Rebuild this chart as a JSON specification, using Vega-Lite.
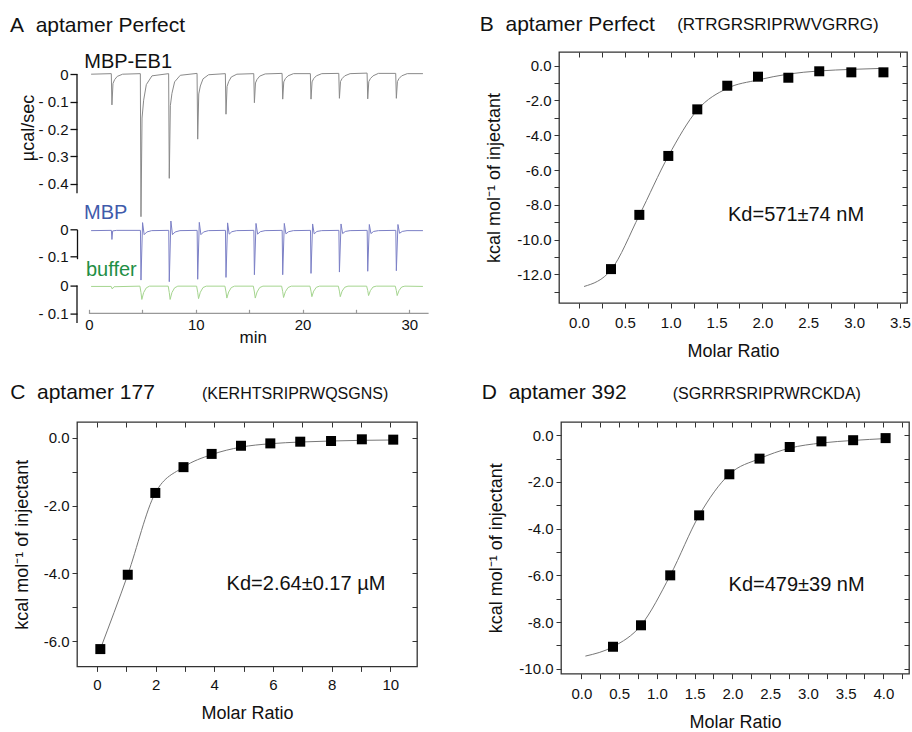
{
  "$schema": "https://vega.github.io/schema/vega-lite/v6.json",
  "padding": {"left": 9, "top": 13, "right": 0, "bottom": 0},
  "background": "white",
  "config": {
    "font": "Liberation Sans",
    "view": {"stroke": null},
    "axis": {"labelFont": "Liberation Sans", "titleFont": "Liberation Sans", "labelColor": "#111", "titleColor": "#111", "titleFontWeight": "normal", "grid": false, "tickColor": "#333", "domainColor": "#333", "labelFlush": false, "labelOverlap": false, "labelBound": false, "minExtent": 0},
    "title": {"font": "Liberation Sans", "subtitleFont": "Liberation Sans", "fontWeight": "normal", "color": "#111", "subtitleColor": "#111", "anchor": "start"}
  },
  "datasets": {
    "itc": [
      {"trace": "MBP-EB1", "time": 0.2, "power": 0},
      {"trace": "MBP-EB1", "time": 2.09, "power": 0.002},
      {"trace": "MBP-EB1", "time": 2.15, "power": -0.112},
      {"trace": "MBP-EB1", "time": 2.25, "power": -0.034},
      {"trace": "MBP-EB1", "time": 2.4, "power": -0.02},
      {"trace": "MBP-EB1", "time": 2.65, "power": -0.008},
      {"trace": "MBP-EB1", "time": 3.15, "power": 0},
      {"trace": "MBP-EB1", "time": 4.81, "power": 0.002},
      {"trace": "MBP-EB1", "time": 4.87, "power": -0.52},
      {"trace": "MBP-EB1", "time": 4.97, "power": -0.16},
      {"trace": "MBP-EB1", "time": 5.12, "power": -0.095},
      {"trace": "MBP-EB1", "time": 5.37, "power": -0.038},
      {"trace": "MBP-EB1", "time": 5.9, "power": -0.006},
      {"trace": "MBP-EB1", "time": 7.46, "power": 0.002},
      {"trace": "MBP-EB1", "time": 7.52, "power": -0.38},
      {"trace": "MBP-EB1", "time": 7.62, "power": -0.115},
      {"trace": "MBP-EB1", "time": 7.77, "power": -0.07},
      {"trace": "MBP-EB1", "time": 8.02, "power": -0.028},
      {"trace": "MBP-EB1", "time": 8.55, "power": -0.004},
      {"trace": "MBP-EB1", "time": 10.12, "power": 0.003},
      {"trace": "MBP-EB1", "time": 10.18, "power": -0.237},
      {"trace": "MBP-EB1", "time": 10.28, "power": -0.072},
      {"trace": "MBP-EB1", "time": 10.43, "power": -0.043},
      {"trace": "MBP-EB1", "time": 10.68, "power": -0.017},
      {"trace": "MBP-EB1", "time": 11.2, "power": -0.002},
      {"trace": "MBP-EB1", "time": 12.77, "power": 0.002},
      {"trace": "MBP-EB1", "time": 12.83, "power": -0.146},
      {"trace": "MBP-EB1", "time": 12.93, "power": -0.045},
      {"trace": "MBP-EB1", "time": 13.08, "power": -0.027},
      {"trace": "MBP-EB1", "time": 13.33, "power": -0.01},
      {"trace": "MBP-EB1", "time": 13.85, "power": 0},
      {"trace": "MBP-EB1", "time": 15.43, "power": 0.002},
      {"trace": "MBP-EB1", "time": 15.49, "power": -0.104},
      {"trace": "MBP-EB1", "time": 15.59, "power": -0.032},
      {"trace": "MBP-EB1", "time": 15.74, "power": -0.019},
      {"trace": "MBP-EB1", "time": 15.99, "power": -0.007},
      {"trace": "MBP-EB1", "time": 16.5, "power": 0.001},
      {"trace": "MBP-EB1", "time": 18.08, "power": 0.003},
      {"trace": "MBP-EB1", "time": 18.14, "power": -0.091},
      {"trace": "MBP-EB1", "time": 18.24, "power": -0.028},
      {"trace": "MBP-EB1", "time": 18.39, "power": -0.016},
      {"trace": "MBP-EB1", "time": 18.64, "power": -0.006},
      {"trace": "MBP-EB1", "time": 19.15, "power": 0.002},
      {"trace": "MBP-EB1", "time": 20.73, "power": 0.002},
      {"trace": "MBP-EB1", "time": 20.79, "power": -0.091},
      {"trace": "MBP-EB1", "time": 20.89, "power": -0.028},
      {"trace": "MBP-EB1", "time": 21.04, "power": -0.016},
      {"trace": "MBP-EB1", "time": 21.29, "power": -0.006},
      {"trace": "MBP-EB1", "time": 21.8, "power": 0.002},
      {"trace": "MBP-EB1", "time": 23.39, "power": 0.003},
      {"trace": "MBP-EB1", "time": 23.45, "power": -0.088},
      {"trace": "MBP-EB1", "time": 23.55, "power": -0.027},
      {"trace": "MBP-EB1", "time": 23.7, "power": -0.016},
      {"trace": "MBP-EB1", "time": 23.95, "power": -0.006},
      {"trace": "MBP-EB1", "time": 24.45, "power": 0.002},
      {"trace": "MBP-EB1", "time": 26.04, "power": 0.004},
      {"trace": "MBP-EB1", "time": 26.1, "power": -0.09},
      {"trace": "MBP-EB1", "time": 26.2, "power": -0.027},
      {"trace": "MBP-EB1", "time": 26.35, "power": -0.016},
      {"trace": "MBP-EB1", "time": 26.6, "power": -0.006},
      {"trace": "MBP-EB1", "time": 27.1, "power": 0.003},
      {"trace": "MBP-EB1", "time": 28.72, "power": 0.003},
      {"trace": "MBP-EB1", "time": 28.78, "power": -0.088},
      {"trace": "MBP-EB1", "time": 28.88, "power": -0.027},
      {"trace": "MBP-EB1", "time": 29.03, "power": -0.016},
      {"trace": "MBP-EB1", "time": 29.28, "power": -0.006},
      {"trace": "MBP-EB1", "time": 29.8, "power": 0.002},
      {"trace": "MBP-EB1", "time": 31.27, "power": 0.002},

      {"trace": "MBP", "time": 0.2, "power": -0.005},
      {"trace": "MBP", "time": 2.1, "power": -0.004},
      {"trace": "MBP", "time": 2.15, "power": -0.038},
      {"trace": "MBP", "time": 2.22, "power": -0.006},
      {"trace": "MBP", "time": 2.6, "power": -0.004},
      {"trace": "MBP", "time": 4.82, "power": -0.004},
      {"trace": "MBP", "time": 4.87, "power": -0.19},
      {"trace": "MBP", "time": 5.02, "power": 0.025},
      {"trace": "MBP", "time": 5.17, "power": -0.02},
      {"trace": "MBP", "time": 5.42, "power": -0.01},
      {"trace": "MBP", "time": 5.87, "power": -0.005},
      {"trace": "MBP", "time": 7.47, "power": -0.004},
      {"trace": "MBP", "time": 7.52, "power": -0.196},
      {"trace": "MBP", "time": 7.67, "power": 0.031},
      {"trace": "MBP", "time": 7.82, "power": -0.02},
      {"trace": "MBP", "time": 8.07, "power": -0.01},
      {"trace": "MBP", "time": 8.52, "power": -0.005},
      {"trace": "MBP", "time": 10.13, "power": -0.004},
      {"trace": "MBP", "time": 10.18, "power": -0.187},
      {"trace": "MBP", "time": 10.33, "power": 0.026},
      {"trace": "MBP", "time": 10.48, "power": -0.02},
      {"trace": "MBP", "time": 10.73, "power": -0.01},
      {"trace": "MBP", "time": 11.18, "power": -0.005},
      {"trace": "MBP", "time": 12.78, "power": -0.004},
      {"trace": "MBP", "time": 12.83, "power": -0.18},
      {"trace": "MBP", "time": 12.98, "power": 0.024},
      {"trace": "MBP", "time": 13.13, "power": -0.018},
      {"trace": "MBP", "time": 13.38, "power": -0.009},
      {"trace": "MBP", "time": 13.83, "power": -0.005},
      {"trace": "MBP", "time": 15.44, "power": -0.004},
      {"trace": "MBP", "time": 15.49, "power": -0.17},
      {"trace": "MBP", "time": 15.64, "power": 0.022},
      {"trace": "MBP", "time": 15.79, "power": -0.018},
      {"trace": "MBP", "time": 16.04, "power": -0.009},
      {"trace": "MBP", "time": 16.49, "power": -0.005},
      {"trace": "MBP", "time": 18.09, "power": -0.004},
      {"trace": "MBP", "time": 18.14, "power": -0.17},
      {"trace": "MBP", "time": 18.29, "power": 0.022},
      {"trace": "MBP", "time": 18.44, "power": -0.017},
      {"trace": "MBP", "time": 18.69, "power": -0.009},
      {"trace": "MBP", "time": 19.14, "power": -0.005},
      {"trace": "MBP", "time": 20.74, "power": -0.004},
      {"trace": "MBP", "time": 20.79, "power": -0.165},
      {"trace": "MBP", "time": 20.94, "power": 0.02},
      {"trace": "MBP", "time": 21.09, "power": -0.017},
      {"trace": "MBP", "time": 21.34, "power": -0.008},
      {"trace": "MBP", "time": 21.79, "power": -0.005},
      {"trace": "MBP", "time": 23.4, "power": -0.004},
      {"trace": "MBP", "time": 23.45, "power": -0.16},
      {"trace": "MBP", "time": 23.6, "power": 0.02},
      {"trace": "MBP", "time": 23.75, "power": -0.016},
      {"trace": "MBP", "time": 24.0, "power": -0.008},
      {"trace": "MBP", "time": 24.45, "power": -0.005},
      {"trace": "MBP", "time": 26.05, "power": -0.004},
      {"trace": "MBP", "time": 26.1, "power": -0.157},
      {"trace": "MBP", "time": 26.25, "power": 0.018},
      {"trace": "MBP", "time": 26.4, "power": -0.016},
      {"trace": "MBP", "time": 26.65, "power": -0.008},
      {"trace": "MBP", "time": 27.1, "power": -0.005},
      {"trace": "MBP", "time": 28.73, "power": -0.004},
      {"trace": "MBP", "time": 28.78, "power": -0.155},
      {"trace": "MBP", "time": 28.93, "power": 0.018},
      {"trace": "MBP", "time": 29.08, "power": -0.015},
      {"trace": "MBP", "time": 29.33, "power": -0.008},
      {"trace": "MBP", "time": 29.78, "power": -0.005},
      {"trace": "MBP", "time": 31.27, "power": -0.005},

      {"trace": "buffer", "time": 0.2, "power": -0.003},
      {"trace": "buffer", "time": 2.08, "power": -0.003},
      {"trace": "buffer", "time": 2.18, "power": -0.012},
      {"trace": "buffer", "time": 2.35, "power": -0.004},
      {"trace": "buffer", "time": 4.77, "power": -0.002},
      {"trace": "buffer", "time": 4.87, "power": -0.025},
      {"trace": "buffer", "time": 4.95, "power": -0.05},
      {"trace": "buffer", "time": 5.12, "power": -0.025},
      {"trace": "buffer", "time": 5.37, "power": -0.008},
      {"trace": "buffer", "time": 5.67, "power": -0.002},
      {"trace": "buffer", "time": 7.42, "power": -0.002},
      {"trace": "buffer", "time": 7.52, "power": -0.025},
      {"trace": "buffer", "time": 7.6, "power": -0.05},
      {"trace": "buffer", "time": 7.77, "power": -0.025},
      {"trace": "buffer", "time": 8.02, "power": -0.008},
      {"trace": "buffer", "time": 8.32, "power": -0.002},
      {"trace": "buffer", "time": 10.08, "power": -0.002},
      {"trace": "buffer", "time": 10.18, "power": -0.024},
      {"trace": "buffer", "time": 10.26, "power": -0.047},
      {"trace": "buffer", "time": 10.43, "power": -0.024},
      {"trace": "buffer", "time": 10.68, "power": -0.007},
      {"trace": "buffer", "time": 10.98, "power": -0.002},
      {"trace": "buffer", "time": 12.73, "power": -0.002},
      {"trace": "buffer", "time": 12.83, "power": -0.023},
      {"trace": "buffer", "time": 12.91, "power": -0.045},
      {"trace": "buffer", "time": 13.08, "power": -0.023},
      {"trace": "buffer", "time": 13.33, "power": -0.007},
      {"trace": "buffer", "time": 13.63, "power": -0.002},
      {"trace": "buffer", "time": 15.39, "power": -0.002},
      {"trace": "buffer", "time": 15.49, "power": -0.023},
      {"trace": "buffer", "time": 15.57, "power": -0.045},
      {"trace": "buffer", "time": 15.74, "power": -0.023},
      {"trace": "buffer", "time": 15.99, "power": -0.007},
      {"trace": "buffer", "time": 16.29, "power": -0.002},
      {"trace": "buffer", "time": 18.04, "power": -0.002},
      {"trace": "buffer", "time": 18.14, "power": -0.022},
      {"trace": "buffer", "time": 18.22, "power": -0.043},
      {"trace": "buffer", "time": 18.39, "power": -0.022},
      {"trace": "buffer", "time": 18.64, "power": -0.007},
      {"trace": "buffer", "time": 18.94, "power": -0.002},
      {"trace": "buffer", "time": 20.69, "power": -0.002},
      {"trace": "buffer", "time": 20.79, "power": -0.02},
      {"trace": "buffer", "time": 20.87, "power": -0.04},
      {"trace": "buffer", "time": 21.04, "power": -0.02},
      {"trace": "buffer", "time": 21.29, "power": -0.006},
      {"trace": "buffer", "time": 21.59, "power": -0.002},
      {"trace": "buffer", "time": 23.35, "power": -0.002},
      {"trace": "buffer", "time": 23.45, "power": -0.02},
      {"trace": "buffer", "time": 23.53, "power": -0.04},
      {"trace": "buffer", "time": 23.7, "power": -0.02},
      {"trace": "buffer", "time": 23.95, "power": -0.006},
      {"trace": "buffer", "time": 24.25, "power": -0.002},
      {"trace": "buffer", "time": 26.0, "power": -0.002},
      {"trace": "buffer", "time": 26.1, "power": -0.018},
      {"trace": "buffer", "time": 26.18, "power": -0.036},
      {"trace": "buffer", "time": 26.35, "power": -0.018},
      {"trace": "buffer", "time": 26.6, "power": -0.005},
      {"trace": "buffer", "time": 26.9, "power": -0.002},
      {"trace": "buffer", "time": 28.68, "power": -0.002},
      {"trace": "buffer", "time": 28.78, "power": -0.018},
      {"trace": "buffer", "time": 28.86, "power": -0.036},
      {"trace": "buffer", "time": 29.03, "power": -0.018},
      {"trace": "buffer", "time": 29.28, "power": -0.005},
      {"trace": "buffer", "time": 29.58, "power": -0.002},
      {"trace": "buffer", "time": 31.27, "power": -0.003}
    ],
    "iso": [
      {"panel": "B", "kind": "data", "ratio": 0.349, "heat": -11.7},
      {"panel": "B", "kind": "data", "ratio": 0.658, "heat": -8.58},
      {"panel": "B", "kind": "data", "ratio": 0.974, "heat": -5.19},
      {"panel": "B", "kind": "data", "ratio": 1.29, "heat": -2.51},
      {"panel": "B", "kind": "data", "ratio": 1.617, "heat": -1.15},
      {"panel": "B", "kind": "data", "ratio": 1.952, "heat": -0.63},
      {"panel": "B", "kind": "data", "ratio": 2.283, "heat": -0.69},
      {"panel": "B", "kind": "data", "ratio": 2.62, "heat": -0.32},
      {"panel": "B", "kind": "data", "ratio": 2.97, "heat": -0.38},
      {"panel": "B", "kind": "data", "ratio": 3.32, "heat": -0.38},
      {"panel": "B", "kind": "fit", "ratio": 0.055, "heat": -12.7},
      {"panel": "B", "kind": "fit", "ratio": 0.349, "heat": -11.75},
      {"panel": "B", "kind": "fit", "ratio": 0.658, "heat": -8.6},
      {"panel": "B", "kind": "fit", "ratio": 0.974, "heat": -5.2},
      {"panel": "B", "kind": "fit", "ratio": 1.29, "heat": -2.55},
      {"panel": "B", "kind": "fit", "ratio": 1.617, "heat": -1.3},
      {"panel": "B", "kind": "fit", "ratio": 1.952, "heat": -0.82},
      {"panel": "B", "kind": "fit", "ratio": 2.283, "heat": -0.48},
      {"panel": "B", "kind": "fit", "ratio": 2.62, "heat": -0.3},
      {"panel": "B", "kind": "fit", "ratio": 2.97, "heat": -0.21},
      {"panel": "B", "kind": "fit", "ratio": 3.32, "heat": -0.15},
      {"panel": "C", "kind": "data", "ratio": 0.115, "heat": -6.23},
      {"panel": "C", "kind": "data", "ratio": 1.05, "heat": -4.04},
      {"panel": "C", "kind": "data", "ratio": 1.99, "heat": -1.63},
      {"panel": "C", "kind": "data", "ratio": 2.95, "heat": -0.87},
      {"panel": "C", "kind": "data", "ratio": 3.91, "heat": -0.48},
      {"panel": "C", "kind": "data", "ratio": 4.91, "heat": -0.24},
      {"panel": "C", "kind": "data", "ratio": 5.91, "heat": -0.17},
      {"panel": "C", "kind": "data", "ratio": 6.93, "heat": -0.12},
      {"panel": "C", "kind": "data", "ratio": 7.98, "heat": -0.1},
      {"panel": "C", "kind": "data", "ratio": 9.03, "heat": -0.05},
      {"panel": "C", "kind": "data", "ratio": 10.1, "heat": -0.06},
      {"panel": "C", "kind": "fit", "ratio": 0.115, "heat": -6.23},
      {"panel": "C", "kind": "fit", "ratio": 1.05, "heat": -4.04},
      {"panel": "C", "kind": "fit", "ratio": 1.99, "heat": -1.63},
      {"panel": "C", "kind": "fit", "ratio": 2.95, "heat": -0.87},
      {"panel": "C", "kind": "fit", "ratio": 3.91, "heat": -0.5},
      {"panel": "C", "kind": "fit", "ratio": 4.91, "heat": -0.28},
      {"panel": "C", "kind": "fit", "ratio": 5.91, "heat": -0.18},
      {"panel": "C", "kind": "fit", "ratio": 6.93, "heat": -0.13},
      {"panel": "C", "kind": "fit", "ratio": 7.98, "heat": -0.1},
      {"panel": "C", "kind": "fit", "ratio": 9.03, "heat": -0.08},
      {"panel": "C", "kind": "fit", "ratio": 10.1, "heat": -0.07},
      {"panel": "D", "kind": "data", "ratio": 0.419, "heat": -9.06},
      {"panel": "D", "kind": "data", "ratio": 0.79, "heat": -8.14},
      {"panel": "D", "kind": "data", "ratio": 1.177, "heat": -6.0},
      {"panel": "D", "kind": "data", "ratio": 1.56, "heat": -3.43},
      {"panel": "D", "kind": "data", "ratio": 1.96, "heat": -1.67},
      {"panel": "D", "kind": "data", "ratio": 2.36, "heat": -1.0},
      {"panel": "D", "kind": "data", "ratio": 2.76, "heat": -0.5},
      {"panel": "D", "kind": "data", "ratio": 3.18, "heat": -0.26},
      {"panel": "D", "kind": "data", "ratio": 3.6, "heat": -0.21},
      {"panel": "D", "kind": "data", "ratio": 4.03, "heat": -0.12},
      {"panel": "D", "kind": "fit", "ratio": 0.053, "heat": -9.46},
      {"panel": "D", "kind": "fit", "ratio": 0.419, "heat": -9.06},
      {"panel": "D", "kind": "fit", "ratio": 0.79, "heat": -8.14},
      {"panel": "D", "kind": "fit", "ratio": 1.177, "heat": -6.0},
      {"panel": "D", "kind": "fit", "ratio": 1.56, "heat": -3.43},
      {"panel": "D", "kind": "fit", "ratio": 1.96, "heat": -1.67},
      {"panel": "D", "kind": "fit", "ratio": 2.36, "heat": -1.0},
      {"panel": "D", "kind": "fit", "ratio": 2.76, "heat": -0.55},
      {"panel": "D", "kind": "fit", "ratio": 3.18, "heat": -0.33},
      {"panel": "D", "kind": "fit", "ratio": 3.6, "heat": -0.22},
      {"panel": "D", "kind": "fit", "ratio": 4.03, "heat": -0.14}
    ]
  },
  "spacing": 18,
  "vconcat": [
    {
      "spacing": 49,
      "hconcat": [
        {
          "bounds": "flush",
          "spacing": 26.3,
          "vconcat": [
            {
              "width": 351.6, "height": 151,
              "title": {"text": "A\u00a0\u00a0aptamer Perfect", "fontSize": 21, "frame": "bounds", "dx": -10, "offset": 16.5},
              "layer": [
                {
                  "data": {"name": "itc"},
                  "transform": [{"filter": "datum.trace === 'MBP-EB1'"}],
                  "mark": {"type": "line", "color": "#8a8a8a", "strokeWidth": 1},
                  "encoding": {
                    "x": {"field": "time", "type": "quantitative", "scale": {"domain": [-1.12, 31.8], "nice": false, "zero": false}, "axis": null},
                    "y": {"field": "power", "type": "quantitative", "scale": {"domain": [-0.47, 0.081], "nice": false, "zero": false},
                      "axis": {"values": [0, -0.1, -0.2, -0.3, -0.4], "tickCount": 6, "labelExpr": "datum.value === 0 ? '0' : '- ' + format(abs(datum.value), '.1f')", "labelOverlap": false, "title": "\u00b5cal/sec", "titleFontSize": 18, "titlePadding": 0, "labelFontSize": 15, "tickSize": 7, "labelPadding": 2, "domain": false, "tickColor": "#111", "tickWidth": 1.3}}
                  }
                },
                {
                  "data": {"values": [{}]},
                  "mark": {"type": "rule", "color": "#111", "strokeWidth": 1.3},
                  "encoding": {
                    "x": {"datum": -1.12, "type": "quantitative", "scale": {"domain": [-1.12, 31.8], "nice": false, "zero": false}, "axis": null},
                    "y": {"datum": 0, "type": "quantitative", "scale": {"domain": [-0.47, 0.081], "nice": false, "zero": false},
                      "axis": {"values": [0, -0.1, -0.2, -0.3, -0.4], "tickCount": 6, "labelExpr": "datum.value === 0 ? '0' : '- ' + format(abs(datum.value), '.1f')", "labelOverlap": false, "title": "\u00b5cal/sec", "titleFontSize": 18, "titlePadding": 0, "labelFontSize": 15, "tickSize": 7, "labelPadding": 2, "domain": false, "tickColor": "#111", "tickWidth": 1.3}},
                    "y2": {"datum": -0.434}
                  }
                },
                {
                  "data": {"values": [{"label": "MBP-EB1"}]},
                  "mark": {"type": "text", "fontSize": 20, "align": "left", "baseline": "alphabetic", "color": "#111"},
                  "encoding": {
                    "x": {"datum": -0.44, "type": "quantitative"},
                    "y": {"datum": 0.0215, "type": "quantitative"},
                    "text": {"field": "label"}
                  }
                }
              ]
            },
            {
              "width": 351.6, "height": 29.4,
              "title": {"text": "MBP", "fontSize": 20, "frame": "group", "offset": -4, "dx": 7, "color": "#3f5bab"},
              "data": {"name": "itc"},
              "transform": [{"filter": "datum.trace === 'MBP'"}],
              "mark": {"type": "line", "color": "#7c80c6", "strokeWidth": 1},
              "encoding": {
                "x": {"field": "time", "type": "quantitative", "scale": {"domain": [-1.12, 31.8], "nice": false, "zero": false}, "axis": null},
                "y": {"field": "power", "type": "quantitative", "scale": {"domain": [-0.11, 0], "nice": false, "zero": false},
                  "axis": {"values": [0, -0.1], "labelExpr": "datum.value === 0 ? '0' : '- ' + format(abs(datum.value), '.1f')", "labelOverlap": false, "title": null, "labelFontSize": 15, "tickSize": 7, "labelPadding": 2, "domain": true, "domainColor": "#111", "domainWidth": 1.3, "tickColor": "#111", "tickWidth": 1.3}}
              }
            },
            {
              "width": 351.6, "height": 27.7,
              "title": {"text": "buffer", "fontSize": 20, "frame": "group", "offset": -1.2, "dx": 9, "color": "#1f8f45"},
              "layer": [
                {
                  "data": {"name": "itc"},
                  "transform": [{"filter": "datum.trace === 'buffer'"}],
                  "mark": {"type": "line", "color": "#a5d58f", "strokeWidth": 1},
                  "encoding": {
                    "x": {"field": "time", "type": "quantitative", "scale": {"domain": [-1.12, 31.8], "nice": false, "zero": false},
                      "axis": {"values": [0, 2.5, 5, 7.5, 10, 12.5, 15, 17.5, 20, 22.5, 25, 27.5, 30], "labelExpr": "datum.value % 10 === 0 ? format(datum.value, 'd') : ''", "labelOverlap": false, "title": "min", "titleFontSize": 17, "titlePadding": -3, "labelFontSize": 15, "tickSize": -4, "labelPadding": 8, "domain": false, "tickColor": "#999", "tickWidth": 1.2}},
                    "y": {"field": "power", "type": "quantitative", "scale": {"domain": [-0.1, 0], "nice": false, "zero": false},
                      "axis": {"values": [0, -0.1], "labelExpr": "datum.value === 0 ? '0' : '- ' + format(abs(datum.value), '.1f')", "labelOverlap": false, "title": null, "labelFontSize": 15, "tickSize": 7, "labelPadding": 2, "domain": false, "tickColor": "#111", "tickWidth": 1.3}}
                  }
                },
                {
                  "data": {"values": [{}]},
                  "mark": {"type": "rule", "color": "#111", "strokeWidth": 1.3},
                  "encoding": {"x": {"datum": -1.12}, "y": {"datum": 0}, "y2": {"datum": -0.135}}
                },
                {
                  "data": {"values": [{}]},
                  "mark": {"type": "rule", "color": "#999", "strokeWidth": 1.2},
                  "encoding": {"x": {"datum": 0}, "x2": {"datum": 31.8}, "y": {"datum": -0.1}}
                }
              ]
            }
          ]
        },
        {
          "bounds": "flush",
          "title": {"text": "(RTRGRSRIPRWVGRRG)", "fontSize": 17, "frame": "bounds", "dx": 198, "offset": -21},
          "vconcat": [
            {
              "width": 348, "height": 251,
              "view": {"stroke": "#333", "strokeWidth": 1.3},
              "title": {"text": "B\u00a0\u00a0aptamer Perfect", "fontSize": 21, "frame": "bounds", "dx": -6, "offset": 16.5},
              "data": {"name": "iso"},
              "layer": [
                {
                  "transform": [{"filter": "datum.panel === 'B' && datum.kind === 'fit'"}],
                  "mark": {"type": "line", "color": "#777", "strokeWidth": 1, "interpolate": "monotone"},
                  "encoding": {
                    "x": {"field": "ratio", "type": "quantitative", "scale": {"domain": [-0.218, 3.577], "nice": false, "zero": false},
                      "axis": {"orient": "bottom", "values": [0, 0.25, 0.5, 0.75, 1, 1.25, 1.5, 1.75, 2, 2.25, 2.5, 2.75, 3, 3.25, 3.5], "labelExpr": "datum.value * 2 % 1 === 0 ? format(datum.value, '.1f') : ''", "labelOverlap": false, "title": "Molar Ratio", "titleFontSize": 18, "titlePadding": 12, "labelFontSize": 15, "tickSize": 5, "labelPadding": 7.5, "domain": false}},
                    "y": {"field": "heat", "type": "quantitative", "scale": {"domain": [-13.65, 0.79], "nice": false, "zero": false},
                      "axis": {"orient": "left", "values": [0, -1, -2, -3, -4, -5, -6, -7, -8, -9, -10, -11, -12, -13], "tickCount": 14, "labelExpr": "abs(datum.value) % 2 === 0 ? (datum.value < 0 ? '-' : '') + format(abs(datum.value), '.1f') : ''", "labelOverlap": false, "title": "kcal mol\u207b\u00b9 of injectant", "titleFontSize": 18, "titlePadding": 13, "labelFontSize": 15, "tickSize": 5, "labelPadding": 3, "domain": false}}
                  }
                },
                {
                  "transform": [{"filter": "datum.panel === 'B' && datum.kind === 'data'"}],
                  "mark": {"type": "point", "shape": "square", "filled": true, "color": "#000", "size": 100, "opacity": 1},
                  "encoding": {
                    "x": {"field": "ratio", "type": "quantitative", "scale": {"domain": [-0.218, 3.577], "nice": false, "zero": false},
                      "axis": {"orient": "top", "values": [0, 0.25, 0.5, 0.75, 1, 1.25, 1.5, 1.75, 2, 2.25, 2.5, 2.75, 3, 3.25, 3.5], "labels": false, "title": null, "tickSize": -5, "domain": false}},
                    "y": {"field": "heat", "type": "quantitative", "scale": {"domain": [-13.65, 0.79], "nice": false, "zero": false},
                      "axis": {"orient": "right", "values": [0, -1, -2, -3, -4, -5, -6, -7, -8, -9, -10, -11, -12, -13], "tickCount": 14, "labels": false, "title": null, "tickSize": -5, "domain": false}}
                  }
                },
                {
                  "data": {"values": [{"label": "Kd=571\u00b174 nM"}]},
                  "mark": {"type": "text", "fontSize": 20, "align": "left", "baseline": "middle", "color": "#111"},
                  "encoding": {
                    "x": {"datum": 1.625, "type": "quantitative", "axis": null},
                    "y": {"datum": -8.58, "type": "quantitative", "axis": null},
                    "text": {"field": "label"}
                  }
                }
              ],
              "resolve": {"axis": {"x": "independent", "y": "independent"}}
            }
          ]
        }
      ]
    },
    {
      "spacing": 62,
      "hconcat": [
        {
          "bounds": "flush",
          "title": {"text": "(KERHTSRIPRWQSGNS)", "fontSize": 16, "frame": "bounds", "dx": 192.4, "offset": -21},
          "vconcat": [
            {
              "width": 340, "height": 244.4,
              "view": {"stroke": "#333", "strokeWidth": 1.3},
              "title": {"text": "C\u00a0\u00a0aptamer 177", "fontSize": 21, "frame": "bounds", "dx": -3, "offset": 19},
              "data": {"name": "iso"},
              "layer": [
                {
                  "transform": [{"filter": "datum.panel === 'C' && datum.kind === 'fit'"}],
                  "mark": {"type": "line", "color": "#777", "strokeWidth": 1, "interpolate": "monotone"},
                  "encoding": {
                    "x": {"field": "ratio", "type": "quantitative", "scale": {"domain": [-0.68, 10.91], "nice": false, "zero": false},
                      "axis": {"orient": "bottom", "values": [0, 1, 2, 3, 4, 5, 6, 7, 8, 9, 10], "tickCount": 11, "labelExpr": "datum.value % 2 === 0 ? format(datum.value, 'd') : ''", "labelOverlap": false, "title": "Molar Ratio", "titleFontSize": 18, "titlePadding": 12, "labelFontSize": 15, "tickSize": 5, "labelPadding": 6.5, "domain": false}},
                    "y": {"field": "heat", "type": "quantitative", "scale": {"domain": [-6.74, 0.46], "nice": false, "zero": false},
                      "axis": {"orient": "left", "values": [0, -1, -2, -3, -4, -5, -6], "tickCount": 7, "labelExpr": "abs(datum.value) % 2 === 0 ? (datum.value < 0 ? '-' : '') + format(abs(datum.value), '.1f') : ''", "labelOverlap": false, "title": "kcal mol\u207b\u00b9 of injectant", "titleFontSize": 18, "titlePadding": 12, "labelFontSize": 15, "tickSize": 5, "labelPadding": 3, "domain": false}}
                  }
                },
                {
                  "transform": [{"filter": "datum.panel === 'C' && datum.kind === 'data'"}],
                  "mark": {"type": "point", "shape": "square", "filled": true, "color": "#000", "size": 100, "opacity": 1},
                  "encoding": {
                    "x": {"field": "ratio", "type": "quantitative", "scale": {"domain": [-0.68, 10.91], "nice": false, "zero": false},
                      "axis": {"orient": "top", "values": [0, 1, 2, 3, 4, 5, 6, 7, 8, 9, 10], "tickCount": 11, "labels": false, "title": null, "tickSize": -5, "domain": false}},
                    "y": {"field": "heat", "type": "quantitative", "scale": {"domain": [-6.74, 0.46], "nice": false, "zero": false},
                      "axis": {"orient": "right", "values": [0, -1, -2, -3, -4, -5, -6], "tickCount": 7, "labels": false, "title": null, "tickSize": -5, "domain": false}}
                  }
                },
                {
                  "data": {"values": [{"label": "Kd=2.64\u00b10.17 \u00b5M"}]},
                  "mark": {"type": "text", "fontSize": 20, "align": "left", "baseline": "middle", "color": "#111"},
                  "encoding": {
                    "x": {"datum": 4.42, "type": "quantitative", "axis": null},
                    "y": {"datum": -4.3, "type": "quantitative", "axis": null},
                    "text": {"field": "label"}
                  }
                }
              ],
              "resolve": {"axis": {"x": "independent", "y": "independent"}}
            }
          ]
        },
        {
          "bounds": "flush",
          "title": {"text": "(SGRRRSRIPRWRCKDA)", "fontSize": 16, "frame": "bounds", "dx": 191.6, "offset": -21},
          "vconcat": [
            {
              "width": 348, "height": 251.6,
              "view": {"stroke": "#333", "strokeWidth": 1.3},
              "title": {"text": "D\u00a0\u00a0aptamer 392", "fontSize": 21, "frame": "bounds", "dx": -6, "offset": 19},
              "data": {"name": "iso"},
              "layer": [
                {
                  "transform": [{"filter": "datum.panel === 'D' && datum.kind === 'fit'"}],
                  "mark": {"type": "line", "color": "#777", "strokeWidth": 1, "interpolate": "monotone"},
                  "encoding": {
                    "x": {"field": "ratio", "type": "quantitative", "scale": {"domain": [-0.27, 4.34], "nice": false, "zero": false},
                      "axis": {"orient": "bottom", "values": [0, 0.25, 0.5, 0.75, 1, 1.25, 1.5, 1.75, 2, 2.25, 2.5, 2.75, 3, 3.25, 3.5, 3.75, 4, 4.25], "labelExpr": "datum.value * 2 % 1 === 0 ? format(datum.value, '.1f') : ''", "labelOverlap": false, "title": "Molar Ratio", "titleFontSize": 18, "titlePadding": 12, "labelFontSize": 15, "tickSize": 5, "labelPadding": 7.5, "domain": false}},
                    "y": {"field": "heat", "type": "quantitative", "scale": {"domain": [-10.21, 0.57], "nice": false, "zero": false},
                      "axis": {"orient": "left", "values": [0, -1, -2, -3, -4, -5, -6, -7, -8, -9, -10], "tickCount": 11, "labelExpr": "abs(datum.value) % 2 === 0 ? (datum.value < 0 ? '-' : '') + format(abs(datum.value), '.1f') : ''", "labelOverlap": false, "title": "kcal mol\u207b\u00b9 of injectant", "titleFontSize": 18, "titlePadding": 13, "labelFontSize": 15, "tickSize": 5, "labelPadding": 3, "domain": false}}
                  }
                },
                {
                  "transform": [{"filter": "datum.panel === 'D' && datum.kind === 'data'"}],
                  "mark": {"type": "point", "shape": "square", "filled": true, "color": "#000", "size": 100, "opacity": 1},
                  "encoding": {
                    "x": {"field": "ratio", "type": "quantitative", "scale": {"domain": [-0.27, 4.34], "nice": false, "zero": false},
                      "axis": {"orient": "top", "values": [0, 0.25, 0.5, 0.75, 1, 1.25, 1.5, 1.75, 2, 2.25, 2.5, 2.75, 3, 3.25, 3.5, 3.75, 4, 4.25], "labels": false, "title": null, "tickSize": -5, "domain": false}},
                    "y": {"field": "heat", "type": "quantitative", "scale": {"domain": [-10.21, 0.57], "nice": false, "zero": false},
                      "axis": {"orient": "right", "values": [0, -1, -2, -3, -4, -5, -6, -7, -8, -9, -10], "tickCount": 11, "labels": false, "title": null, "tickSize": -5, "domain": false}}
                  }
                },
                {
                  "data": {"values": [{"label": "Kd=479\u00b139 nM"}]},
                  "mark": {"type": "text", "fontSize": 20, "align": "left", "baseline": "middle", "color": "#111"},
                  "encoding": {
                    "x": {"datum": 1.95, "type": "quantitative", "axis": null},
                    "y": {"datum": -6.43, "type": "quantitative", "axis": null},
                    "text": {"field": "label"}
                  }
                }
              ],
              "resolve": {"axis": {"x": "independent", "y": "independent"}}
            }
          ]
        }
      ]
    }
  ]
}
